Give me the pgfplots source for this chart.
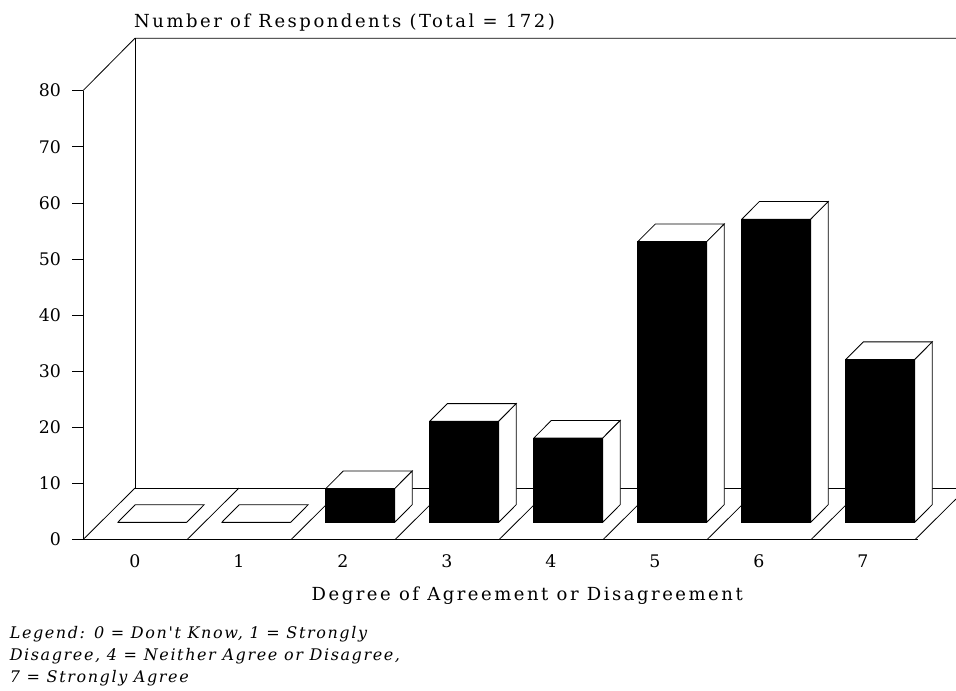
\documentclass[border=0pt]{standalone}
\usepackage{fontspec}
\setmainfont{DejaVu Serif}
\newfontfamily\widefont[LetterSpace=14]{DejaVu Serif}
\newfontfamily\legendfont[LetterSpace=10]{DejaVu Serif}
\usepackage{pgfplots}
\usepackage{pgfplotstable}
\pgfplotsset{compat=1.18}

% respondents per answer (sums to 172)
\pgfplotstableread{
cat value
0 0
1 0
2 6
3 18
4 15
5 50
6 54
7 29
}\answers

\begin{document}
\begin{tikzpicture}
\path[use as bounding box] (0pt,0pt) rectangle (717pt,517.5pt);
\begin{axis}[
    at={(62.25pt,112.75pt)},anchor=south west,
    scale only axis,
    width=626.25pt,height=336.75pt,
    xmin=-0.5,xmax=7.529,
    ymin=0,ymax=80,
    clip=false,
    axis lines=left,
    axis line style={-,line width=0.6pt},
    every tick/.style={black,line width=0.6pt},
    xtick={0,...,7},
    ytick={0,10,...,80},
    tick align=outside,
    major tick length=8pt,
    x tick style={draw=none},
    tick label style={font=\fontsize{13}{15}\selectfont},
    /pgf/number format/assume math mode=true,
    xticklabel style={yshift=0pt},
    yticklabel style={xshift=-5pt},
    xlabel={Degree of Agreement or Disagreement},
    xlabel style={at={(axis description cs:0.532,-0.136)},anchor=base,font=\widefont\fontsize{13.5}{15}\selectfont},
    title={Number of Respondents (Total = 172)},
    title style={at={(axis description cs:0.061,1.122)},anchor=base west,inner sep=0pt,font=\widefont\fontsize{13.5}{15}\selectfont},
]
% floor and back wall
\addplot[black,line width=0.6pt] coordinates {(-0.5,80) (0,89.35) (7.894,89.35)};
\addplot[black,line width=0.6pt] coordinates {(0,89.35) (0,9.2) (7.894,9.2)};
\addplot[black,line width=0.6pt] coordinates {(-0.5,0) (0,9.2)};
\addplot[black,line width=0.6pt] coordinates {(0.5,0) (1,9.2)};
\addplot[black,line width=0.6pt] coordinates {(1.5,0) (2,9.2)};
\addplot[black,line width=0.6pt] coordinates {(2.5,0) (3,9.2)};
\addplot[black,line width=0.6pt] coordinates {(3.5,0) (4,9.2)};
\addplot[black,line width=0.6pt] coordinates {(4.5,0) (5,9.2)};
\addplot[black,line width=0.6pt] coordinates {(5.5,0) (6,9.2)};
\addplot[black,line width=0.6pt] coordinates {(6.5,0) (7,9.2)};
\addplot[black,line width=0.6pt] coordinates {(7.5,0) (7.894,7.25)};

% bar tops
\pgfplotsset{face/.style={fill=white,draw=black,line width=0.6pt,yshift=13pt}}
\addplot[face] coordinates {(-0.166,0) (0.497,0) (0.666,3.15) (0.003,3.15) (-0.166,0)};
\addplot[face] coordinates {(0.834,0) (1.497,0) (1.666,3.15) (1.003,3.15) (0.834,0)};
% bar 2
\addplot[face] coordinates {(1.834,6) (2.497,6) (2.666,9.15) (2.003,9.15) (1.834,6)};
\addplot[face] coordinates {(2.497,0) (2.666,3.15) (2.666,9.15) (2.497,6) (2.497,0)};
% bar 3
\addplot[face] coordinates {(2.834,18) (3.497,18) (3.666,21.15) (3.003,21.15) (2.834,18)};
\addplot[face] coordinates {(3.497,0) (3.666,3.15) (3.666,21.15) (3.497,18) (3.497,0)};
% bar 4
\addplot[face] coordinates {(3.834,15) (4.497,15) (4.666,18.15) (4.003,18.15) (3.834,15)};
\addplot[face] coordinates {(4.497,0) (4.666,3.15) (4.666,18.15) (4.497,15) (4.497,0)};
% bar 5
\addplot[face] coordinates {(4.834,50) (5.497,50) (5.666,53.15) (5.003,53.15) (4.834,50)};
\addplot[face] coordinates {(5.497,0) (5.666,3.15) (5.666,53.15) (5.497,50) (5.497,0)};
% bar 6
\addplot[face] coordinates {(5.834,54) (6.497,54) (6.666,57.15) (6.003,57.15) (5.834,54)};
\addplot[face] coordinates {(6.497,0) (6.666,3.15) (6.666,57.15) (6.497,54) (6.497,0)};
% bar 7
\addplot[face] coordinates {(6.834,29) (7.497,29) (7.666,32.15) (7.003,32.15) (6.834,29)};
\addplot[face] coordinates {(7.497,0) (7.666,3.15) (7.666,32.15) (7.497,29) (7.497,0)};

% front faces
\addplot[ybar,bar shift=0pt,bar width=51.75pt,fill=black,draw=black,line width=0.5pt,yshift=13pt]
    table[x expr=\thisrow{cat}+0.165,y=value] {\answers};

\node[anchor=base west,inner sep=0pt,font=\legendfont\itshape\fontsize{12}{14}\selectfont]
    at (axis description cs:-0.088,-0.2195) {Legend: 0 = Don't Know, 1 = Strongly};
\node[anchor=base west,inner sep=0pt,font=\legendfont\itshape\fontsize{12}{14}\selectfont]
    at (axis description cs:-0.088,-0.2685) {Disagree, 4 = Neither Agree or Disagree,};
\node[anchor=base west,inner sep=0pt,font=\legendfont\itshape\fontsize{12}{14}\selectfont]
    at (axis description cs:-0.088,-0.3175) {7 = Strongly Agree};
\end{axis}
\end{tikzpicture}
\end{document}
